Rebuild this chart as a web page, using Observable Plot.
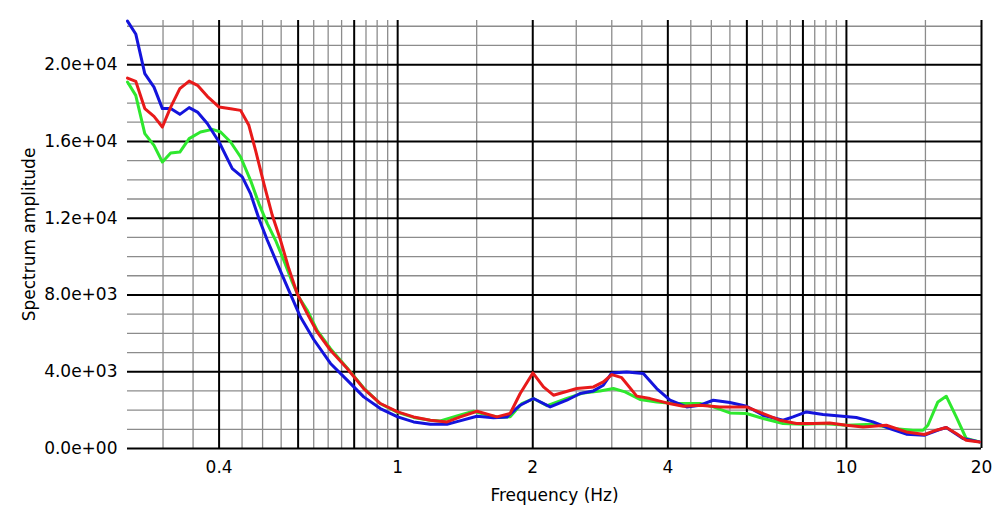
<!DOCTYPE html>
<html>
<head>
<meta charset="utf-8">
<script src="https://cdn.jsdelivr.net/npm/d3@7"></script>
<script src="https://cdn.jsdelivr.net/npm/@observablehq/plot@0.6"></script>
<style>
  html, body { margin: 0; padding: 0; background: white; }
</style>
</head>
<body>
<div id="chart"></div>
<script>
// Tick / grid values
const majorX = [0.4, 0.6, 0.8, 1, 2, 4, 6, 8, 10, 20];
const minorX = [0.3, 0.35, 0.45, 0.5, 0.55, 0.65, 0.7, 0.75, 0.85, 0.9, 0.95, 1.5, 2.5, 3, 3.5, 4.5, 5, 5.5, 6.5, 7, 7.5, 8.5, 9, 9.5, 15];
const majorY = [0, 4000, 8000, 12000, 16000, 20000];
const minorY = [1000, 2000, 3000, 5000, 6000, 7000, 9000, 10000, 11000, 13000, 14000, 15000, 17000, 18000, 19000, 21000, 22000];

// Blue series
const blueFreq = [0.250, 0.2608, 0.2732, 0.2864, 0.299, 0.312, 0.327, 0.343, 0.358, 0.3765, 0.400, 0.428, 0.4505, 0.470, 0.4906, 0.5123, 0.539, 0.572, 0.6073, 0.650, 0.7084, 0.7717, 0.840, 0.915, 1.0, 1.085, 1.182, 1.288, 1.356, 1.502, 1.635, 1.752, 1.875, 2.007, 2.187, 2.382, 2.550, 2.731, 2.873, 3.000, 3.240, 3.527, 3.778, 4.045, 4.405, 4.717, 5.050, 5.500, 5.991, 6.523, 7.226, 7.605, 8.147, 8.870, 9.663, 10.52, 11.46, 12.49, 13.60, 14.94, 16.13, 16.69, 18.18, 19.80];
const blueAmp = [22270, 21600, 19530, 18830, 17710, 17710, 17410, 17760, 17530, 16930, 15970, 14580, 14150, 13280, 11980, 10850, 9635, 8240, 6850, 5680, 4430, 3560, 2690, 2080, 1650, 1385, 1266, 1260, 1400, 1680, 1600, 1640, 2255, 2604, 2167, 2515, 2864, 3000, 3297, 3937, 3989, 3906, 3125, 2515, 2167, 2255, 2515, 2395, 2203, 1734, 1474, 1646, 1906, 1771, 1698, 1614, 1385, 1042, 745, 693, 990, 1094, 521, 344];

// Red series
const redFreq = [0.250, 0.2608, 0.2732, 0.2864, 0.299, 0.312, 0.327, 0.343, 0.358, 0.3765, 0.400, 0.4243, 0.4467, 0.466, 0.4823, 0.5033, 0.5255, 0.5483, 0.572, 0.5971, 0.6287, 0.6615, 0.7084, 0.7717, 0.840, 0.915, 1.0, 1.085, 1.182, 1.288, 1.379, 1.502, 1.664, 1.781, 1.875, 2.001, 2.113, 2.224, 2.507, 2.731, 2.873, 3.000, 3.157, 3.410, 3.651, 3.977, 4.329, 4.717, 5.226, 5.991, 6.523, 7.104, 7.739, 8.427, 9.181, 10.0, 10.89, 12.27, 13.60, 14.94, 15.86, 16.69, 17.57, 18.49, 19.80];
const redAmp = [19300, 19130, 17710, 17306, 16749, 17790, 18749, 19145, 18921, 18348, 17790, 17707, 17618, 16838, 15535, 13800, 12150, 10848, 9374, 8072, 7031, 6073, 5119, 4166, 3125, 2344, 1906, 1646, 1474, 1385, 1646, 1942, 1646, 1822, 2864, 3937, 3208, 2776, 3125, 3208, 3468, 3850, 3690, 2730, 2600, 2375, 2203, 2255, 2167, 2167, 1822, 1474, 1302, 1302, 1333, 1213, 1125, 1213, 864, 729, 953, 1094, 781, 432, 344];

// Green series
const greenFreq = [0.250, 0.2608, 0.2732, 0.2864, 0.299, 0.312, 0.327, 0.343, 0.3636, 0.3864, 0.403, 0.4243, 0.4467, 0.470, 0.4906, 0.5123, 0.5344, 0.5574, 0.582, 0.602, 0.6287, 0.6615, 0.7084, 0.7717, 0.840, 0.915, 1.0, 1.085, 1.182, 1.245, 1.356, 1.476, 1.591, 1.692, 1.781, 1.891, 2.007, 2.153, 2.382, 2.594, 2.825, 3.025, 3.212, 3.467, 3.778, 4.114, 4.717, 5.050, 5.500, 5.991, 6.523, 7.226, 8.008, 8.870, 10.0, 11.46, 12.70, 14.07, 14.81, 15.19, 15.99, 16.69, 17.57, 18.49, 19.80];
const greenAmp = [19092, 18400, 16405, 15796, 14926, 15395, 15447, 16145, 16488, 16629, 16488, 15968, 15187, 13973, 12760, 11718, 10848, 9807, 8676, 7895, 7203, 6150, 5200, 4200, 3150, 2330, 1880, 1620, 1474, 1437, 1700, 1942, 1734, 1614, 1650, 2344, 2604, 2230, 2604, 2896, 3000, 3125, 2948, 2552, 2427, 2344, 2344, 2167, 1854, 1822, 1562, 1302, 1266, 1302, 1213, 1266, 1042, 953, 953, 1213, 2427, 2724, 1646, 521, 344];

const toRows = (fs, as) => fs.map((f, i) => ({f, a: as[i]}));
const blue = toRows(blueFreq, blueAmp);
const red = toRows(redFreq, redAmp);
const green = toRows(greenFreq, greenAmp);

const fmtExp = v => v.toExponential(1).replace(/e([+-])(\d)$/, "e$10$2");

const chart = Plot.plot({
  width: 1002,
  height: 521,
  marginLeft: 127,
  marginRight: 21,
  marginTop: 20,
  marginBottom: 73,
  style: {fontFamily: "DejaVu Sans", fontSize: "17px", background: "white", color: "black"},
  x: {type: "log", domain: [0.25, 20]},
  y: {domain: [0, 22300]},
  marks: [
    Plot.ruleX(minorX, {stroke: "#8c8c8c", strokeWidth: 1.3}),
    Plot.ruleY(minorY, {stroke: "#8c8c8c", strokeWidth: 1.3}),
    Plot.ruleX(majorX, {stroke: "black", strokeWidth: 2}),
    Plot.ruleY(majorY, {stroke: "black", strokeWidth: 2}),
    Plot.axisX({ticks: majorX, tickFormat: d => String(d), tickSize: 0, tickPadding: 12,
      label: "Frequency (Hz)", labelAnchor: "center", labelArrow: "none", labelOffset: 52}),
    Plot.axisY({ticks: majorY, tickFormat: fmtExp, tickSize: 0, tickPadding: 10,
      label: "Spectrum amplitude", labelAnchor: "center", labelArrow: "none", labelOffset: 105}),
    Plot.line(green, {x: "f", y: "a", stroke: "#2ee82e", strokeWidth: 3, strokeLinejoin: "round"}),
    Plot.line(blue, {x: "f", y: "a", stroke: "#1414dc", strokeWidth: 3, strokeLinejoin: "round"}),
    Plot.line(red, {x: "f", y: "a", stroke: "#e81a1a", strokeWidth: 3, strokeLinejoin: "round"})
  ]
});
document.getElementById("chart").appendChild(chart);
</script>
</body>
</html>
